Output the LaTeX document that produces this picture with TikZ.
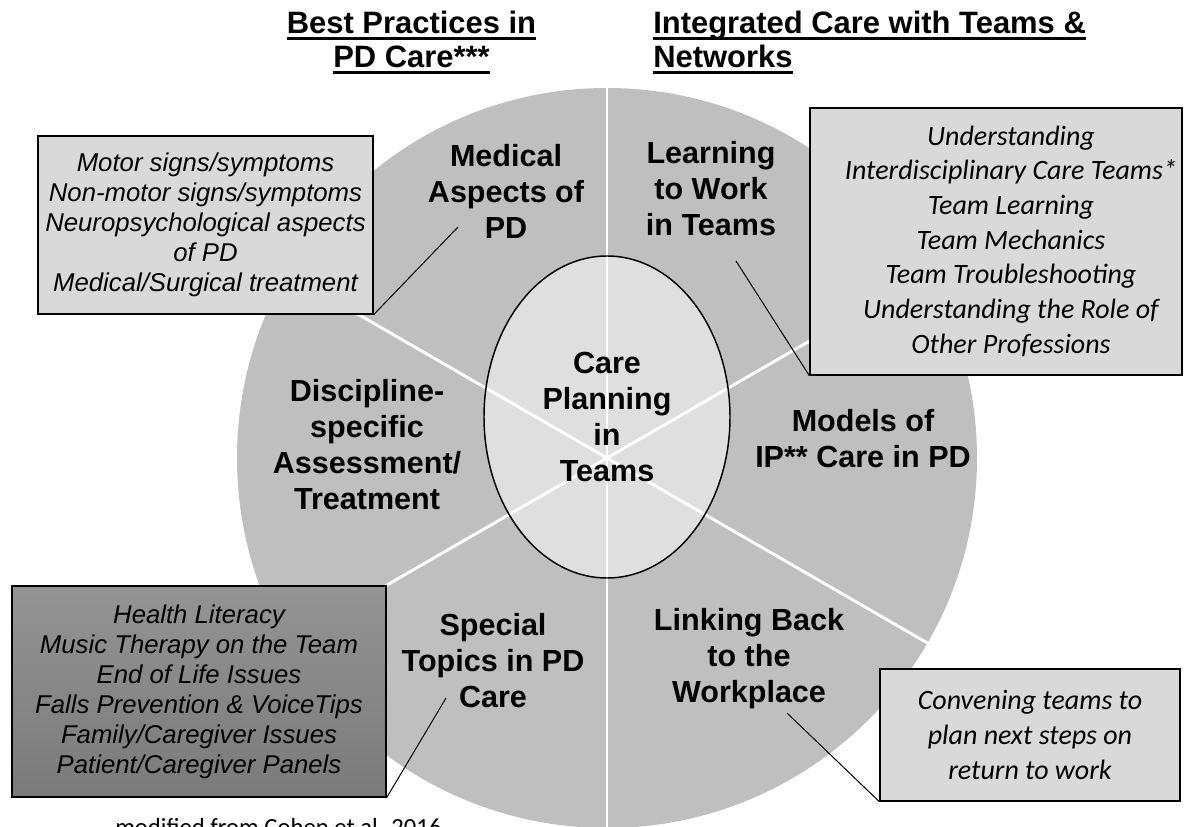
\documentclass[tikz,border=0pt]{standalone}
\usepackage{fontspec}
\setmainfont{Liberation Sans}
\newfontfamily\calibri{Carlito}
\usetikzlibrary{shapes.geometric}
\newcommand\ulrule[1]{\setbox0\hbox{#1}\rlap{\rule[-4.4pt]{\wd0}{1.8pt}}\box0}
\definecolor{wheelgray}{HTML}{BFBFBF}
\definecolor{boxgray}{HTML}{D9D9D9}

\begin{document}
\begin{tikzpicture}[x=0.75pt,y=-0.75pt,
    sector/.style={align=center,font=\bfseries\fontsize{22.9}{27}\selectfont},
    heading/.style={align=center,inner sep=0pt,font=\bfseries\fontsize{23.2}{25.5}\selectfont},
    infobox/.style={draw,fill=boxgray,line width=1pt,inner sep=0pt,align=center},
    arialit/.style={font=\itshape\fontsize{19.3}{22.5}\selectfont},
    calibit/.style={font=\calibri\itshape\fontsize{21}{26}\selectfont}]
	\tikzset{spoke/.style={white,line width=2.2pt},pointer/.style={line width=0.75pt}}
%	\tikzset{spoke/.style={white,line width=3pt}}
	\useasboundingbox (0,0) rectangle (1197,827);
	% wheel
	\node[circle,fill=wheelgray,inner sep=0pt,minimum size=555pt] (wheel) at (607,458) {};
	\draw[spoke] (wheel.north) -- (wheel.south);
	\draw[spoke] (wheel.150) -- (wheel.-30);
	\draw[spoke] (wheel.30) -- (wheel.210);
	\node[sector,ellipse,draw,line width=1.1pt,fill=white,fill opacity=0.5,text opacity=1,
		minimum width=184.5pt,minimum height=241.5pt] (hub) at (607,417) {Care\\Planning\\in\\Teams};
	\node[sector] (medical) at (506,191) {Medical\\Aspects of\\PD};
	\node[sector] (learning) at (711,189) {Learning\\to Work\\in Teams};
	\node[sector] (discipline) at (367,445) {Discipline-\\specific\\Assessment/\\Treatment};
	\node[sector] (models) at (863,439) {Models of\\IP** Care in PD};
	\node[sector] (special) at (493,661) {Special\\Topics in PD\\Care};
	\node[sector] (linking) at (749,659) {Linking Back\\to the\\Workplace};
	% headings
	\node[heading] (bestpr) at (411.5,42.5) {\ulrule{Best Practices in}\\\ulrule{PD Care***}};
	\node[heading,anchor=west,align=left] (integ) at (653,42.5) {\ulrule{Integrated Care with Teams \&}\\\ulrule{Networks}};
	% side boxes
	\node[infobox,arialit,minimum width=251.25pt,minimum height=133.5pt] (motorbox) at (205.5,225)
		{Motor signs/symptoms\\Non-motor signs/symptoms\\Neuropsychological aspects\\of PD\\Medical/Surgical treatment};
	\node[infobox,minimum width=279pt,minimum height=200.25pt] (teambox) at (996,241.5) {};
	\node[calibit,align=center] (teamtext) at (1011,241)
		{Understanding\\Interdisciplinary Care Teams*\\Team Learning\\Team Mechanics\\Team Troubleshooting\\Understanding the Role of\\Other Professions};
	\node[infobox,arialit,top color=black!42,bottom color=black!52,minimum width=280.5pt,minimum height=158.25pt] (topicbox) at (199,691.5)
		{Health Literacy\\Music Therapy on the Team\\End of Life Issues\\Falls Prevention \& VoiceTips\\Family/Caregiver Issues\\Patient/Caregiver Panels};
	\node[infobox,calibit,minimum width=225pt,minimum height=99pt] (returnbox) at (1030,735)
		{Convening teams to\\plan next steps on\\return to work};
	% pointers
	\coordinate (medtip) at (458,227);
	\coordinate (learntip) at (736,261);
	\coordinate (specialtip) at (446,698);
	\coordinate (linktip) at (787,713);
	\draw[pointer] (motorbox.south east) -- (medtip);
	\draw[pointer] (learntip) -- (teambox.south west);
	\draw[pointer] (topicbox.south east) -- (specialtip);
	\draw[pointer] (linktip) -- (returnbox.south west);
	\node[anchor=base west,inner sep=0pt,font=\calibri\fontsize{18.5}{22}\selectfont] (note) at (115,835.5) {modified from Cohen et al. 2016};
\end{tikzpicture}
\end{document}
